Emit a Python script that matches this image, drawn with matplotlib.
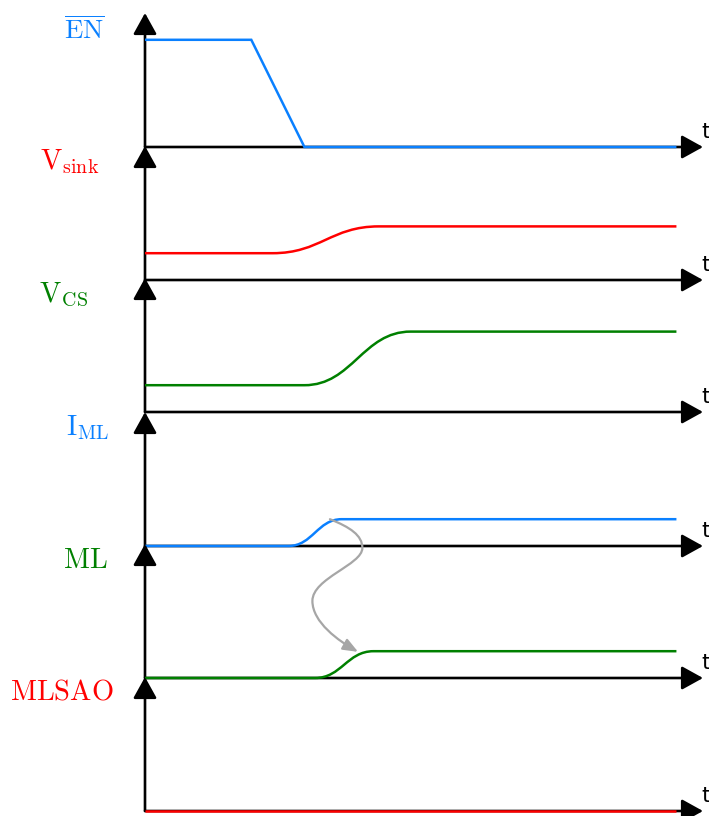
import matplotlib
matplotlib.use("Agg")
import matplotlib.pyplot as plt
from matplotlib.path import Path
from matplotlib.patches import FancyArrowPatch, ArrowStyle, PathPatch

plt.rcParams["mathtext.fontset"] = "cm"

# ---- signals, top to bottom ----
signal_labels = [r"$\overline{\mathrm{EN}}$", r"$\mathrm{V}_{\mathrm{sink}}$",
                 r"$\mathrm{V}_{\mathrm{CS}}$", r"$\mathrm{I}_{\mathrm{ML}}$",
                 r"$\mathrm{ML}$", r"$\mathrm{MLSAO}$"]
signal_colors = ["#0a80ff", "#ff0000", "#008000", "#0a80ff", "#008000", "#ff0000"]

# level before and after the transition (fraction of lane height)
level_before = [0.80, 0.20, 0.20, 0.00, 0.00, 0.00]
level_after = [0.00, 0.40, 0.60, 0.20, 0.20, 0.00]
# transition start / end times
t_start = [2.0, 2.4, 3.0, 2.7, 3.2, 0.0]
t_end = [3.0, 4.4, 5.0, 3.7, 4.3, 0.0]
transition_kind = ["ramp", "smooth", "smooth", "smooth", "smooth", "none"]
t_stop = 10.0        # end of the traces
t_axis_end = 10.5    # tip of the time axis

# causal link from I_ML (lane 3) to MLSAO rising, in lane-3 coordinates
link_points = [(3.48, 0.20), (3.86, 0.14), (4.09, 0.08), (4.09, -0.015),
               (4.09, -0.14), (3.15, -0.24), (3.15, -0.41),
               (3.15, -0.57), (3.65, -0.71), (4.01, -0.79)]

# ---- layout (pixels) ----
W, H = 709, 816
x_left, x_right = 145, 703
lane_base = [147, 280, 412, 546, 678, 811]
lane_h = 134
label_right = [105, 99, 88, 109, 108, 114]
label_top = [16, 147, 281, 413, 546, 678]
label_size = [19.5, 20.5, 20.5, 20.5, 20.5, 20.5]

fig = plt.figure(figsize=(W / 100, H / 100), dpi=100)

axis_style = ArrowStyle("-|>", head_length=13, head_width=7.2)


def signal_path(y0, y1, ta, tb, kind):
    M, L, C = Path.MOVETO, Path.LINETO, Path.CURVE4
    if kind == "none":
        return Path([(0, y0), (t_stop, y0)], [M, L])
    if kind == "ramp":
        return Path([(0, y0), (ta, y0), (tb, y1), (t_stop, y1)], [M, L, L, L])
    h = 0.45 * (tb - ta)
    return Path([(0, y0), (ta, y0), (ta + h, y0), (tb - h, y1), (tb, y1), (t_stop, y1)],
                [M, L, C, C, C, L])


axes = []
for i in range(len(signal_labels)):
    b = lane_base[i]
    ax = fig.add_axes([x_left / W, 1 - b / H, (x_right - x_left) / W, lane_h / H])
    ax.set_xlim(0, t_axis_end)
    ax.set_ylim(0, 1)
    ax.axis("off")
    axes.append(ax)

    # time axis and value axis
    for xy, xytext in (((t_axis_end, 0), (0, 0)), ((0, 1), (0, 0))):
        ax.annotate("", xy=xy, xytext=xytext, annotation_clip=False,
                    arrowprops=dict(arrowstyle=axis_style, color="black", lw=1.9,
                                    shrinkA=0, shrinkB=0, mutation_scale=1))
    ax.annotate("t", xy=(t_axis_end, 0), xytext=(-1, 6.5), textcoords="offset points",
                ha="left", va="baseline", fontsize=16, family="DejaVu Sans",
                annotation_clip=False)

    p = signal_path(level_before[i], level_after[i], t_start[i], t_end[i],
                    transition_kind[i])
    ax.add_patch(PathPatch(p, fill=False, edgecolor=signal_colors[i],
                           lw=1.8, zorder=5, clip_on=False, capstyle="butt"))

    fig.text(label_right[i] / W, 1 - label_top[i] / H, signal_labels[i],
             color=signal_colors[i], fontsize=label_size[i], ha="right", va="top")

codes = [Path.MOVETO] + [Path.CURVE4] * (len(link_points) - 1)
link = FancyArrowPatch(path=Path(link_points, codes),
                       arrowstyle=ArrowStyle("-|>", head_length=9, head_width=3.6),
                       mutation_scale=1, color="#a6a6a6", lw=1.6,
                       transform=axes[3].transData, clip_on=False, zorder=6)
axes[3].add_patch(link)

fig.savefig("out.png", dpi=100)
